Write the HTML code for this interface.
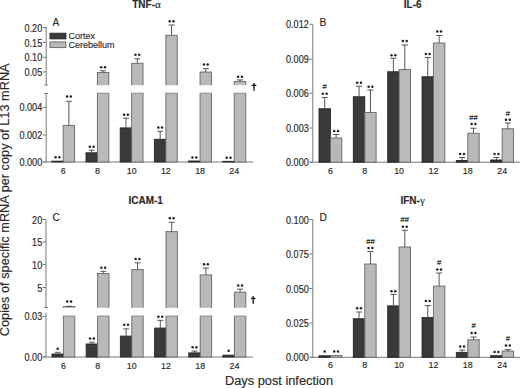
<!DOCTYPE html>
<html><head><meta charset="utf-8"><style>
html,body{margin:0;padding:0;background:#fff;}
body{width:520px;height:388px;overflow:hidden;}
svg{display:block;font-family:"Liberation Sans",sans-serif;}
text{stroke:#2a2a2a;stroke-width:0.15px;}
</style></head><body>
<svg width="520" height="388" viewBox="0 0 520 388">
<rect width="520" height="388" fill="#fff"/>
<line x1="46.2" y1="26.6" x2="46.2" y2="85" stroke="#7a7a7a" stroke-width="1"/>
<line x1="44.2" y1="85" x2="48.2" y2="85" stroke="#7a7a7a" stroke-width="1"/>
<line x1="46.2" y1="93.5" x2="46.2" y2="162" stroke="#7a7a7a" stroke-width="1"/>
<line x1="44.2" y1="93.5" x2="48.2" y2="93.5" stroke="#7a7a7a" stroke-width="1"/>
<line x1="42.7" y1="27.6" x2="46.2" y2="27.6" stroke="#7a7a7a" stroke-width="1"/>
<text transform="translate(42.20,31.60) scale(1,1.15)" font-size="9.1" text-anchor="end" font-weight="normal" fill="#2a2a2a" >0.20</text>
<line x1="42.7" y1="42.5" x2="46.2" y2="42.5" stroke="#7a7a7a" stroke-width="1"/>
<text transform="translate(42.20,46.50) scale(1,1.15)" font-size="9.1" text-anchor="end" font-weight="normal" fill="#2a2a2a" >0.15</text>
<line x1="42.7" y1="57.3" x2="46.2" y2="57.3" stroke="#7a7a7a" stroke-width="1"/>
<text transform="translate(42.20,61.30) scale(1,1.15)" font-size="9.1" text-anchor="end" font-weight="normal" fill="#2a2a2a" >0.10</text>
<line x1="42.7" y1="71.9" x2="46.2" y2="71.9" stroke="#7a7a7a" stroke-width="1"/>
<text transform="translate(42.20,75.90) scale(1,1.15)" font-size="9.1" text-anchor="end" font-weight="normal" fill="#2a2a2a" >0.05</text>
<line x1="42.7" y1="107.3" x2="46.2" y2="107.3" stroke="#7a7a7a" stroke-width="1"/>
<text transform="translate(42.20,111.30) scale(1,1.15)" font-size="9.1" text-anchor="end" font-weight="normal" fill="#2a2a2a" >0.004</text>
<line x1="42.7" y1="135" x2="46.2" y2="135" stroke="#7a7a7a" stroke-width="1"/>
<text transform="translate(42.20,139.00) scale(1,1.15)" font-size="9.1" text-anchor="end" font-weight="normal" fill="#2a2a2a" >0.002</text>
<line x1="42.7" y1="162" x2="46.2" y2="162" stroke="#7a7a7a" stroke-width="1"/>
<text transform="translate(42.20,166.00) scale(1,1.15)" font-size="9.1" text-anchor="end" font-weight="normal" fill="#2a2a2a" >0.000</text>
<line x1="43.3" y1="162" x2="253.2" y2="162" stroke="#7a7a7a" stroke-width="1"/>
<rect x="51.80" y="161.20" width="11.4" height="0.80" fill="#3a3a3a"/>
<path d="M51.80 162.00V161.20M63.20 161.20V162.00" stroke="#222" stroke-width="0.9" fill="none"/>
<path d="M51.35 161.20H63.65" stroke="#222" stroke-width="0.9"/>
<path d="M51.35 162.00H63.65" stroke="#222" stroke-width="0.9"/>
<circle cx="55.60" cy="157.30" r="1.25" fill="#222"/>
<circle cx="59.40" cy="157.30" r="1.25" fill="#222"/>
<rect x="63.20" y="125.40" width="11.4" height="36.60" fill="#b9b9b9"/>
<path d="M63.20 162.00V125.40M74.60 125.40V162.00" stroke="#666" stroke-width="0.9" fill="none"/>
<path d="M62.75 125.40H75.05" stroke="#666" stroke-width="0.9"/>
<path d="M62.75 162.00H75.05" stroke="#666" stroke-width="0.9"/>
<line x1="68.9" y1="125.4" x2="68.9" y2="101.3" stroke="#444" stroke-width="0.9"/>
<line x1="65.9" y1="101.3" x2="71.9" y2="101.3" stroke="#444" stroke-width="0.9"/>
<circle cx="67.00" cy="96.60" r="1.25" fill="#222"/>
<circle cx="70.80" cy="96.60" r="1.25" fill="#222"/>
<rect x="86.02" y="152.80" width="11.4" height="9.20" fill="#3a3a3a"/>
<path d="M86.02 162.00V152.80M97.42 152.80V162.00" stroke="#222" stroke-width="0.9" fill="none"/>
<path d="M85.57 152.80H97.87" stroke="#222" stroke-width="0.9"/>
<path d="M85.57 162.00H97.87" stroke="#222" stroke-width="0.9"/>
<line x1="91.72" y1="152.8" x2="91.72" y2="150.2" stroke="#444" stroke-width="0.9"/>
<line x1="88.72" y1="150.2" x2="94.72" y2="150.2" stroke="#444" stroke-width="0.9"/>
<circle cx="89.82" cy="146.70" r="1.25" fill="#222"/>
<circle cx="93.62" cy="146.70" r="1.25" fill="#222"/>
<rect x="97.42" y="93.20" width="11.4" height="68.80" fill="#b9b9b9"/>
<path d="M97.42 162.00V93.20M108.82 93.20V162.00" stroke="#666" stroke-width="0.9" fill="none"/>
<path d="M96.97 93.20H109.27" stroke="#888" stroke-width="0.9"/>
<path d="M96.97 162.00H109.27" stroke="#666" stroke-width="0.9"/>
<rect x="97.42" y="72.50" width="11.4" height="12.70" fill="#b9b9b9"/>
<path d="M97.42 85.20V72.50M108.82 72.50V85.20" stroke="#666" stroke-width="0.9" fill="none"/>
<path d="M96.97 72.50H109.27" stroke="#666" stroke-width="0.9"/>
<line x1="103.12" y1="72.5" x2="103.12" y2="70.8" stroke="#444" stroke-width="0.9"/>
<line x1="100.12" y1="70.8" x2="106.12" y2="70.8" stroke="#444" stroke-width="0.9"/>
<circle cx="101.22" cy="67.20" r="1.25" fill="#222"/>
<circle cx="105.02" cy="67.20" r="1.25" fill="#222"/>
<rect x="120.24" y="127.90" width="11.4" height="34.10" fill="#3a3a3a"/>
<path d="M120.24 162.00V127.90M131.64 127.90V162.00" stroke="#222" stroke-width="0.9" fill="none"/>
<path d="M119.79 127.90H132.09" stroke="#222" stroke-width="0.9"/>
<path d="M119.79 162.00H132.09" stroke="#222" stroke-width="0.9"/>
<line x1="125.93999999999998" y1="127.9" x2="125.93999999999998" y2="118.1" stroke="#444" stroke-width="0.9"/>
<line x1="122.93999999999998" y1="118.1" x2="128.94" y2="118.1" stroke="#444" stroke-width="0.9"/>
<circle cx="124.04" cy="114.80" r="1.25" fill="#222"/>
<circle cx="127.84" cy="114.80" r="1.25" fill="#222"/>
<rect x="131.64" y="93.20" width="11.4" height="68.80" fill="#b9b9b9"/>
<path d="M131.64 162.00V93.20M143.04 93.20V162.00" stroke="#666" stroke-width="0.9" fill="none"/>
<path d="M131.19 93.20H143.49" stroke="#888" stroke-width="0.9"/>
<path d="M131.19 162.00H143.49" stroke="#666" stroke-width="0.9"/>
<rect x="131.64" y="63.30" width="11.4" height="21.90" fill="#b9b9b9"/>
<path d="M131.64 85.20V63.30M143.04 63.30V85.20" stroke="#666" stroke-width="0.9" fill="none"/>
<path d="M131.19 63.30H143.49" stroke="#666" stroke-width="0.9"/>
<line x1="137.33999999999997" y1="63.3" x2="137.33999999999997" y2="58.8" stroke="#444" stroke-width="0.9"/>
<line x1="134.33999999999997" y1="58.8" x2="140.33999999999997" y2="58.8" stroke="#444" stroke-width="0.9"/>
<circle cx="135.44" cy="54.70" r="1.25" fill="#222"/>
<circle cx="139.24" cy="54.70" r="1.25" fill="#222"/>
<rect x="154.46" y="139.30" width="11.4" height="22.70" fill="#3a3a3a"/>
<path d="M154.46 162.00V139.30M165.86 139.30V162.00" stroke="#222" stroke-width="0.9" fill="none"/>
<path d="M154.01 139.30H166.31" stroke="#222" stroke-width="0.9"/>
<path d="M154.01 162.00H166.31" stroke="#222" stroke-width="0.9"/>
<line x1="160.16000000000003" y1="139.3" x2="160.16000000000003" y2="131.3" stroke="#444" stroke-width="0.9"/>
<line x1="157.16000000000003" y1="131.3" x2="163.16000000000003" y2="131.3" stroke="#444" stroke-width="0.9"/>
<circle cx="158.26" cy="127.50" r="1.25" fill="#222"/>
<circle cx="162.06" cy="127.50" r="1.25" fill="#222"/>
<rect x="165.86" y="93.20" width="11.4" height="68.80" fill="#b9b9b9"/>
<path d="M165.86 162.00V93.20M177.26 93.20V162.00" stroke="#666" stroke-width="0.9" fill="none"/>
<path d="M165.41 93.20H177.71" stroke="#888" stroke-width="0.9"/>
<path d="M165.41 162.00H177.71" stroke="#666" stroke-width="0.9"/>
<rect x="165.86" y="35.30" width="11.4" height="49.90" fill="#b9b9b9"/>
<path d="M165.86 85.20V35.30M177.26 35.30V85.20" stroke="#666" stroke-width="0.9" fill="none"/>
<path d="M165.41 35.30H177.71" stroke="#666" stroke-width="0.9"/>
<line x1="171.56" y1="35.3" x2="171.56" y2="25" stroke="#444" stroke-width="0.9"/>
<line x1="168.56" y1="25" x2="174.56" y2="25" stroke="#444" stroke-width="0.9"/>
<circle cx="169.66" cy="21.20" r="1.25" fill="#222"/>
<circle cx="173.46" cy="21.20" r="1.25" fill="#222"/>
<rect x="188.68" y="161.00" width="11.4" height="1.00" fill="#3a3a3a"/>
<path d="M188.68 162.00V161.00M200.08 161.00V162.00" stroke="#222" stroke-width="0.9" fill="none"/>
<path d="M188.23 161.00H200.53" stroke="#222" stroke-width="0.9"/>
<path d="M188.23 162.00H200.53" stroke="#222" stroke-width="0.9"/>
<circle cx="192.48" cy="157.40" r="1.25" fill="#222"/>
<circle cx="196.28" cy="157.40" r="1.25" fill="#222"/>
<rect x="200.08" y="93.20" width="11.4" height="68.80" fill="#b9b9b9"/>
<path d="M200.08 162.00V93.20M211.48 93.20V162.00" stroke="#666" stroke-width="0.9" fill="none"/>
<path d="M199.63 93.20H211.93" stroke="#888" stroke-width="0.9"/>
<path d="M199.63 162.00H211.93" stroke="#666" stroke-width="0.9"/>
<rect x="200.08" y="72.10" width="11.4" height="13.10" fill="#b9b9b9"/>
<path d="M200.08 85.20V72.10M211.48 72.10V85.20" stroke="#666" stroke-width="0.9" fill="none"/>
<path d="M199.63 72.10H211.93" stroke="#666" stroke-width="0.9"/>
<line x1="205.77999999999997" y1="72.1" x2="205.77999999999997" y2="68.6" stroke="#444" stroke-width="0.9"/>
<line x1="202.77999999999997" y1="68.6" x2="208.77999999999997" y2="68.6" stroke="#444" stroke-width="0.9"/>
<circle cx="203.88" cy="64.60" r="1.25" fill="#222"/>
<circle cx="207.68" cy="64.60" r="1.25" fill="#222"/>
<rect x="222.90" y="161.40" width="11.4" height="0.60" fill="#3a3a3a"/>
<path d="M222.90 162.00V161.40M234.30 161.40V162.00" stroke="#222" stroke-width="0.9" fill="none"/>
<path d="M222.45 161.40H234.75" stroke="#222" stroke-width="0.9"/>
<path d="M222.45 162.00H234.75" stroke="#222" stroke-width="0.9"/>
<circle cx="226.70" cy="157.70" r="1.25" fill="#222"/>
<circle cx="230.50" cy="157.70" r="1.25" fill="#222"/>
<rect x="234.30" y="93.20" width="11.4" height="68.80" fill="#b9b9b9"/>
<path d="M234.30 162.00V93.20M245.70 93.20V162.00" stroke="#666" stroke-width="0.9" fill="none"/>
<path d="M233.85 93.20H246.15" stroke="#888" stroke-width="0.9"/>
<path d="M233.85 162.00H246.15" stroke="#666" stroke-width="0.9"/>
<rect x="234.30" y="81.40" width="11.4" height="3.80" fill="#b9b9b9"/>
<path d="M234.30 85.20V81.40M245.70 81.40V85.20" stroke="#666" stroke-width="0.9" fill="none"/>
<path d="M233.85 81.40H246.15" stroke="#666" stroke-width="0.9"/>
<line x1="240.0" y1="81.4" x2="240.0" y2="79.9" stroke="#444" stroke-width="0.9"/>
<line x1="237.0" y1="79.9" x2="243.0" y2="79.9" stroke="#444" stroke-width="0.9"/>
<circle cx="238.10" cy="76.80" r="1.25" fill="#222"/>
<circle cx="241.90" cy="76.80" r="1.25" fill="#222"/>
<path d="M253.15 83.30H254.85L254.55 91.00H253.45Z" fill="#1a1a1a"/>
<path d="M251.70 85.40H256.30" stroke="#1a1a1a" stroke-width="1.3"/>
<rect x="50" y="33.2" width="15.9" height="5.7" fill="#3a3a3a" stroke="#222" stroke-width="0.9"/>
<rect x="50" y="41.9" width="15.9" height="5.7" fill="#b9b9b9" stroke="#666" stroke-width="0.9"/>
<text transform="translate(68.60,38.90) scale(1,1.0)" font-size="9" text-anchor="start" font-weight="normal" fill="#2a2a2a" >Cortex</text>
<text transform="translate(68.60,47.60) scale(1,1.0)" font-size="9" text-anchor="start" font-weight="normal" fill="#2a2a2a" >Cerebellum</text>
<text transform="translate(52.60,25.50) scale(1,1.0)" font-size="10.2" text-anchor="start" font-weight="normal" fill="#2a2a2a" >A</text>
<text transform="translate(146.50,7.70) scale(1,1.0)" font-size="10" text-anchor="middle" font-weight="bold" fill="#2a2a2a" >TNF-<tspan font-weight="normal" font-family="Liberation Serif" font-size="11">α</tspan></text>
<line x1="312.8" y1="24.25" x2="312.8" y2="162.2" stroke="#7a7a7a" stroke-width="1"/>
<line x1="309.3" y1="24.25" x2="312.8" y2="24.25" stroke="#7a7a7a" stroke-width="1"/>
<text transform="translate(308.80,28.25) scale(1,1.15)" font-size="9.1" text-anchor="end" font-weight="normal" fill="#2a2a2a" >0.012</text>
<line x1="309.3" y1="59.25" x2="312.8" y2="59.25" stroke="#7a7a7a" stroke-width="1"/>
<text transform="translate(308.80,63.25) scale(1,1.15)" font-size="9.1" text-anchor="end" font-weight="normal" fill="#2a2a2a" >0.009</text>
<line x1="309.3" y1="93.25" x2="312.8" y2="93.25" stroke="#7a7a7a" stroke-width="1"/>
<text transform="translate(308.80,97.25) scale(1,1.15)" font-size="9.1" text-anchor="end" font-weight="normal" fill="#2a2a2a" >0.006</text>
<line x1="309.3" y1="128" x2="312.8" y2="128" stroke="#7a7a7a" stroke-width="1"/>
<text transform="translate(308.80,132.00) scale(1,1.15)" font-size="9.1" text-anchor="end" font-weight="normal" fill="#2a2a2a" >0.003</text>
<line x1="309.3" y1="162.2" x2="312.8" y2="162.2" stroke="#7a7a7a" stroke-width="1"/>
<text transform="translate(308.80,166.20) scale(1,1.15)" font-size="9.1" text-anchor="end" font-weight="normal" fill="#2a2a2a" >0.000</text>
<line x1="310.5" y1="162.2" x2="520" y2="162.2" stroke="#7a7a7a" stroke-width="1"/>
<rect x="319.00" y="108.75" width="11.4" height="53.45" fill="#3a3a3a"/>
<path d="M319.00 162.20V108.75M330.40 108.75V162.20" stroke="#222" stroke-width="0.9" fill="none"/>
<path d="M318.55 108.75H330.85" stroke="#222" stroke-width="0.9"/>
<path d="M318.55 162.20H330.85" stroke="#222" stroke-width="0.9"/>
<line x1="324.7" y1="108.75" x2="324.7" y2="97.5" stroke="#444" stroke-width="0.9"/>
<line x1="321.7" y1="97.5" x2="327.7" y2="97.5" stroke="#444" stroke-width="0.9"/>
<circle cx="322.80" cy="93.70" r="1.25" fill="#222"/>
<circle cx="326.60" cy="93.70" r="1.25" fill="#222"/>
<text transform="translate(324.70,88.85) scale(1,1.0)" font-size="7.6" text-anchor="middle" font-weight="normal" fill="#111" stroke="#111" stroke-width="0.25">#</text>
<rect x="330.40" y="138.00" width="11.4" height="24.20" fill="#b9b9b9"/>
<path d="M330.40 162.20V138.00M341.80 138.00V162.20" stroke="#666" stroke-width="0.9" fill="none"/>
<path d="M329.95 138.00H342.25" stroke="#666" stroke-width="0.9"/>
<path d="M329.95 162.20H342.25" stroke="#666" stroke-width="0.9"/>
<line x1="336.09999999999997" y1="138" x2="336.09999999999997" y2="134.5" stroke="#444" stroke-width="0.9"/>
<line x1="333.09999999999997" y1="134.5" x2="339.09999999999997" y2="134.5" stroke="#444" stroke-width="0.9"/>
<circle cx="334.20" cy="130.95" r="1.25" fill="#222"/>
<circle cx="338.00" cy="130.95" r="1.25" fill="#222"/>
<rect x="353.35" y="96.75" width="11.4" height="65.45" fill="#3a3a3a"/>
<path d="M353.35 162.20V96.75M364.75 96.75V162.20" stroke="#222" stroke-width="0.9" fill="none"/>
<path d="M352.90 96.75H365.20" stroke="#222" stroke-width="0.9"/>
<path d="M352.90 162.20H365.20" stroke="#222" stroke-width="0.9"/>
<line x1="359.05" y1="96.75" x2="359.05" y2="86.25" stroke="#444" stroke-width="0.9"/>
<line x1="356.05" y1="86.25" x2="362.05" y2="86.25" stroke="#444" stroke-width="0.9"/>
<circle cx="357.15" cy="82.70" r="1.25" fill="#222"/>
<circle cx="360.95" cy="82.70" r="1.25" fill="#222"/>
<rect x="364.75" y="112.50" width="11.4" height="49.70" fill="#b9b9b9"/>
<path d="M364.75 162.20V112.50M376.15 112.50V162.20" stroke="#666" stroke-width="0.9" fill="none"/>
<path d="M364.30 112.50H376.60" stroke="#666" stroke-width="0.9"/>
<path d="M364.30 162.20H376.60" stroke="#666" stroke-width="0.9"/>
<line x1="370.45" y1="112.5" x2="370.45" y2="90" stroke="#444" stroke-width="0.9"/>
<line x1="367.45" y1="90" x2="373.45" y2="90" stroke="#444" stroke-width="0.9"/>
<circle cx="368.55" cy="86.70" r="1.25" fill="#222"/>
<circle cx="372.35" cy="86.70" r="1.25" fill="#222"/>
<rect x="387.70" y="71.75" width="11.4" height="90.45" fill="#3a3a3a"/>
<path d="M387.70 162.20V71.75M399.10 71.75V162.20" stroke="#222" stroke-width="0.9" fill="none"/>
<path d="M387.25 71.75H399.55" stroke="#222" stroke-width="0.9"/>
<path d="M387.25 162.20H399.55" stroke="#222" stroke-width="0.9"/>
<line x1="393.4" y1="71.75" x2="393.4" y2="58.25" stroke="#444" stroke-width="0.9"/>
<line x1="390.4" y1="58.25" x2="396.4" y2="58.25" stroke="#444" stroke-width="0.9"/>
<circle cx="391.50" cy="55.20" r="1.25" fill="#222"/>
<circle cx="395.30" cy="55.20" r="1.25" fill="#222"/>
<rect x="399.10" y="69.50" width="11.4" height="92.70" fill="#b9b9b9"/>
<path d="M399.10 162.20V69.50M410.50 69.50V162.20" stroke="#666" stroke-width="0.9" fill="none"/>
<path d="M398.65 69.50H410.95" stroke="#666" stroke-width="0.9"/>
<path d="M398.65 162.20H410.95" stroke="#666" stroke-width="0.9"/>
<line x1="404.79999999999995" y1="69.5" x2="404.79999999999995" y2="45" stroke="#444" stroke-width="0.9"/>
<line x1="401.79999999999995" y1="45" x2="407.79999999999995" y2="45" stroke="#444" stroke-width="0.9"/>
<circle cx="402.90" cy="40.95" r="1.25" fill="#222"/>
<circle cx="406.70" cy="40.95" r="1.25" fill="#222"/>
<rect x="422.05" y="76.75" width="11.4" height="85.45" fill="#3a3a3a"/>
<path d="M422.05 162.20V76.75M433.45 76.75V162.20" stroke="#222" stroke-width="0.9" fill="none"/>
<path d="M421.60 76.75H433.90" stroke="#222" stroke-width="0.9"/>
<path d="M421.60 162.20H433.90" stroke="#222" stroke-width="0.9"/>
<line x1="427.75" y1="76.75" x2="427.75" y2="57.5" stroke="#444" stroke-width="0.9"/>
<line x1="424.75" y1="57.5" x2="430.75" y2="57.5" stroke="#444" stroke-width="0.9"/>
<circle cx="425.85" cy="53.95" r="1.25" fill="#222"/>
<circle cx="429.65" cy="53.95" r="1.25" fill="#222"/>
<rect x="433.45" y="43.00" width="11.4" height="119.20" fill="#b9b9b9"/>
<path d="M433.45 162.20V43.00M444.85 43.00V162.20" stroke="#666" stroke-width="0.9" fill="none"/>
<path d="M433.00 43.00H445.30" stroke="#666" stroke-width="0.9"/>
<path d="M433.00 162.20H445.30" stroke="#666" stroke-width="0.9"/>
<line x1="439.15" y1="43" x2="439.15" y2="35.5" stroke="#444" stroke-width="0.9"/>
<line x1="436.15" y1="35.5" x2="442.15" y2="35.5" stroke="#444" stroke-width="0.9"/>
<circle cx="437.25" cy="31.45" r="1.25" fill="#222"/>
<circle cx="441.05" cy="31.45" r="1.25" fill="#222"/>
<rect x="456.40" y="160.50" width="11.4" height="1.70" fill="#3a3a3a"/>
<path d="M456.40 162.20V160.50M467.80 160.50V162.20" stroke="#222" stroke-width="0.9" fill="none"/>
<path d="M455.95 160.50H468.25" stroke="#222" stroke-width="0.9"/>
<path d="M455.95 162.20H468.25" stroke="#222" stroke-width="0.9"/>
<line x1="462.09999999999997" y1="160.5" x2="462.09999999999997" y2="157.5" stroke="#444" stroke-width="0.9"/>
<line x1="459.09999999999997" y1="157.5" x2="465.09999999999997" y2="157.5" stroke="#444" stroke-width="0.9"/>
<circle cx="460.20" cy="153.95" r="1.25" fill="#222"/>
<circle cx="464.00" cy="153.95" r="1.25" fill="#222"/>
<rect x="467.80" y="133.25" width="11.4" height="28.95" fill="#b9b9b9"/>
<path d="M467.80 162.20V133.25M479.20 133.25V162.20" stroke="#666" stroke-width="0.9" fill="none"/>
<path d="M467.35 133.25H479.65" stroke="#666" stroke-width="0.9"/>
<path d="M467.35 162.20H479.65" stroke="#666" stroke-width="0.9"/>
<line x1="473.49999999999994" y1="133.25" x2="473.49999999999994" y2="128.25" stroke="#444" stroke-width="0.9"/>
<line x1="470.49999999999994" y1="128.25" x2="476.49999999999994" y2="128.25" stroke="#444" stroke-width="0.9"/>
<circle cx="471.60" cy="123.95" r="1.25" fill="#222"/>
<circle cx="475.40" cy="123.95" r="1.25" fill="#222"/>
<text transform="translate(473.50,119.60) scale(1,1.0)" font-size="7.6" text-anchor="middle" font-weight="normal" fill="#111" stroke="#111" stroke-width="0.25">##</text>
<rect x="490.75" y="160.00" width="11.4" height="2.20" fill="#3a3a3a"/>
<path d="M490.75 162.20V160.00M502.15 160.00V162.20" stroke="#222" stroke-width="0.9" fill="none"/>
<path d="M490.30 160.00H502.60" stroke="#222" stroke-width="0.9"/>
<path d="M490.30 162.20H502.60" stroke="#222" stroke-width="0.9"/>
<line x1="496.45" y1="160" x2="496.45" y2="157.5" stroke="#444" stroke-width="0.9"/>
<line x1="493.45" y1="157.5" x2="499.45" y2="157.5" stroke="#444" stroke-width="0.9"/>
<circle cx="494.55" cy="153.95" r="1.25" fill="#222"/>
<circle cx="498.35" cy="153.95" r="1.25" fill="#222"/>
<rect x="502.15" y="128.75" width="11.4" height="33.45" fill="#b9b9b9"/>
<path d="M502.15 162.20V128.75M513.55 128.75V162.20" stroke="#666" stroke-width="0.9" fill="none"/>
<path d="M501.70 128.75H514.00" stroke="#666" stroke-width="0.9"/>
<path d="M501.70 162.20H514.00" stroke="#666" stroke-width="0.9"/>
<line x1="507.84999999999997" y1="128.75" x2="507.84999999999997" y2="123" stroke="#444" stroke-width="0.9"/>
<line x1="504.84999999999997" y1="123" x2="510.84999999999997" y2="123" stroke="#444" stroke-width="0.9"/>
<circle cx="505.95" cy="119.70" r="1.25" fill="#222"/>
<circle cx="509.75" cy="119.70" r="1.25" fill="#222"/>
<text transform="translate(507.85,116.35) scale(1,1.0)" font-size="7.6" text-anchor="middle" font-weight="normal" fill="#111" stroke="#111" stroke-width="0.25">#</text>
<text transform="translate(319.60,25.50) scale(1,1.0)" font-size="10.2" text-anchor="start" font-weight="normal" fill="#2a2a2a" >B</text>
<text transform="translate(412.70,8.20) scale(1,1.0)" font-size="10" text-anchor="middle" font-weight="bold" fill="#2a2a2a" >IL-6</text>
<line x1="46.0" y1="219.5" x2="46.0" y2="307.6" stroke="#7a7a7a" stroke-width="1"/>
<line x1="44.0" y1="307.6" x2="48.0" y2="307.6" stroke="#7a7a7a" stroke-width="1"/>
<line x1="46.0" y1="312.5" x2="46.0" y2="357" stroke="#7a7a7a" stroke-width="1"/>
<line x1="42.5" y1="219.5" x2="46.0" y2="219.5" stroke="#7a7a7a" stroke-width="1"/>
<text transform="translate(42.20,223.50) scale(1,1.15)" font-size="9.1" text-anchor="end" font-weight="normal" fill="#2a2a2a" >20</text>
<line x1="42.5" y1="242" x2="46.0" y2="242" stroke="#7a7a7a" stroke-width="1"/>
<text transform="translate(42.20,246.00) scale(1,1.15)" font-size="9.1" text-anchor="end" font-weight="normal" fill="#2a2a2a" >15</text>
<line x1="42.5" y1="264.5" x2="46.0" y2="264.5" stroke="#7a7a7a" stroke-width="1"/>
<text transform="translate(42.20,268.50) scale(1,1.15)" font-size="9.1" text-anchor="end" font-weight="normal" fill="#2a2a2a" >10</text>
<line x1="42.5" y1="287.5" x2="46.0" y2="287.5" stroke="#7a7a7a" stroke-width="1"/>
<text transform="translate(42.20,291.50) scale(1,1.15)" font-size="9.1" text-anchor="end" font-weight="normal" fill="#2a2a2a" >5</text>
<line x1="42.5" y1="316.3" x2="46.0" y2="316.3" stroke="#7a7a7a" stroke-width="1"/>
<text transform="translate(42.20,320.30) scale(1,1.15)" font-size="9.1" text-anchor="end" font-weight="normal" fill="#2a2a2a" >0.03</text>
<line x1="42.5" y1="357" x2="46.0" y2="357" stroke="#7a7a7a" stroke-width="1"/>
<text transform="translate(42.20,361.00) scale(1,1.15)" font-size="9.1" text-anchor="end" font-weight="normal" fill="#2a2a2a" >0.00</text>
<line x1="43" y1="357" x2="253.2" y2="357" stroke="#7a7a7a" stroke-width="1"/>
<rect x="52.00" y="354.00" width="11.4" height="3.00" fill="#3a3a3a"/>
<path d="M52.00 357.00V354.00M63.40 354.00V357.00" stroke="#222" stroke-width="0.9" fill="none"/>
<path d="M51.55 354.00H63.85" stroke="#222" stroke-width="0.9"/>
<path d="M51.55 357.00H63.85" stroke="#222" stroke-width="0.9"/>
<line x1="57.699999999999996" y1="354" x2="57.699999999999996" y2="352.3" stroke="#444" stroke-width="0.9"/>
<line x1="54.699999999999996" y1="352.3" x2="60.699999999999996" y2="352.3" stroke="#444" stroke-width="0.9"/>
<circle cx="57.70" cy="348.70" r="1.25" fill="#222"/>
<rect x="63.40" y="316.00" width="11.4" height="41.00" fill="#b9b9b9"/>
<path d="M63.40 357.00V316.00M74.80 316.00V357.00" stroke="#666" stroke-width="0.9" fill="none"/>
<path d="M62.95 316.00H75.25" stroke="#888" stroke-width="0.9"/>
<path d="M62.95 357.00H75.25" stroke="#666" stroke-width="0.9"/>
<rect x="63.40" y="306.60" width="11.4" height="1.20" fill="#b9b9b9"/>
<path d="M63.40 307.80V306.60M74.80 306.60V307.80" stroke="#666" stroke-width="0.9" fill="none"/>
<path d="M62.95 306.60H75.25" stroke="#666" stroke-width="0.9"/>
<line x1="69.1" y1="306.6" x2="69.1" y2="306.3" stroke="#444" stroke-width="0.9"/>
<line x1="66.1" y1="306.3" x2="72.1" y2="306.3" stroke="#444" stroke-width="0.9"/>
<circle cx="67.20" cy="301.60" r="1.25" fill="#222"/>
<circle cx="71.00" cy="301.60" r="1.25" fill="#222"/>
<rect x="86.20" y="344.00" width="11.4" height="13.00" fill="#3a3a3a"/>
<path d="M86.20 357.00V344.00M97.60 344.00V357.00" stroke="#222" stroke-width="0.9" fill="none"/>
<path d="M85.75 344.00H98.05" stroke="#222" stroke-width="0.9"/>
<path d="M85.75 357.00H98.05" stroke="#222" stroke-width="0.9"/>
<line x1="91.89999999999999" y1="344" x2="91.89999999999999" y2="342.2" stroke="#444" stroke-width="0.9"/>
<line x1="88.89999999999999" y1="342.2" x2="94.89999999999999" y2="342.2" stroke="#444" stroke-width="0.9"/>
<circle cx="90.00" cy="338.40" r="1.25" fill="#222"/>
<circle cx="93.80" cy="338.40" r="1.25" fill="#222"/>
<rect x="97.60" y="316.00" width="11.4" height="41.00" fill="#b9b9b9"/>
<path d="M97.60 357.00V316.00M109.00 316.00V357.00" stroke="#666" stroke-width="0.9" fill="none"/>
<path d="M97.15 316.00H109.45" stroke="#888" stroke-width="0.9"/>
<path d="M97.15 357.00H109.45" stroke="#666" stroke-width="0.9"/>
<rect x="97.60" y="273.50" width="11.4" height="34.30" fill="#b9b9b9"/>
<path d="M97.60 307.80V273.50M109.00 273.50V307.80" stroke="#666" stroke-width="0.9" fill="none"/>
<path d="M97.15 273.50H109.45" stroke="#666" stroke-width="0.9"/>
<line x1="103.3" y1="273.5" x2="103.3" y2="271.3" stroke="#444" stroke-width="0.9"/>
<line x1="100.3" y1="271.3" x2="106.3" y2="271.3" stroke="#444" stroke-width="0.9"/>
<circle cx="101.40" cy="267.70" r="1.25" fill="#222"/>
<circle cx="105.20" cy="267.70" r="1.25" fill="#222"/>
<rect x="120.40" y="336.10" width="11.4" height="20.90" fill="#3a3a3a"/>
<path d="M120.40 357.00V336.10M131.80 336.10V357.00" stroke="#222" stroke-width="0.9" fill="none"/>
<path d="M119.95 336.10H132.25" stroke="#222" stroke-width="0.9"/>
<path d="M119.95 357.00H132.25" stroke="#222" stroke-width="0.9"/>
<line x1="126.10000000000001" y1="336.1" x2="126.10000000000001" y2="328.9" stroke="#444" stroke-width="0.9"/>
<line x1="123.10000000000001" y1="328.9" x2="129.10000000000002" y2="328.9" stroke="#444" stroke-width="0.9"/>
<circle cx="124.20" cy="324.80" r="1.25" fill="#222"/>
<circle cx="128.00" cy="324.80" r="1.25" fill="#222"/>
<rect x="131.80" y="316.00" width="11.4" height="41.00" fill="#b9b9b9"/>
<path d="M131.80 357.00V316.00M143.20 316.00V357.00" stroke="#666" stroke-width="0.9" fill="none"/>
<path d="M131.35 316.00H143.65" stroke="#888" stroke-width="0.9"/>
<path d="M131.35 357.00H143.65" stroke="#666" stroke-width="0.9"/>
<rect x="131.80" y="269.60" width="11.4" height="38.20" fill="#b9b9b9"/>
<path d="M131.80 307.80V269.60M143.20 269.60V307.80" stroke="#666" stroke-width="0.9" fill="none"/>
<path d="M131.35 269.60H143.65" stroke="#666" stroke-width="0.9"/>
<line x1="137.5" y1="269.6" x2="137.5" y2="262.8" stroke="#444" stroke-width="0.9"/>
<line x1="134.5" y1="262.8" x2="140.5" y2="262.8" stroke="#444" stroke-width="0.9"/>
<circle cx="135.60" cy="259.00" r="1.25" fill="#222"/>
<circle cx="139.40" cy="259.00" r="1.25" fill="#222"/>
<rect x="154.60" y="328.10" width="11.4" height="28.90" fill="#3a3a3a"/>
<path d="M154.60 357.00V328.10M166.00 328.10V357.00" stroke="#222" stroke-width="0.9" fill="none"/>
<path d="M154.15 328.10H166.45" stroke="#222" stroke-width="0.9"/>
<path d="M154.15 357.00H166.45" stroke="#222" stroke-width="0.9"/>
<line x1="160.3" y1="328.1" x2="160.3" y2="320.3" stroke="#444" stroke-width="0.9"/>
<line x1="157.3" y1="320.3" x2="163.3" y2="320.3" stroke="#444" stroke-width="0.9"/>
<circle cx="158.40" cy="316.70" r="1.25" fill="#222"/>
<circle cx="162.20" cy="316.70" r="1.25" fill="#222"/>
<rect x="166.00" y="316.00" width="11.4" height="41.00" fill="#b9b9b9"/>
<path d="M166.00 357.00V316.00M177.40 316.00V357.00" stroke="#666" stroke-width="0.9" fill="none"/>
<path d="M165.55 316.00H177.85" stroke="#888" stroke-width="0.9"/>
<path d="M165.55 357.00H177.85" stroke="#666" stroke-width="0.9"/>
<rect x="166.00" y="231.60" width="11.4" height="76.20" fill="#b9b9b9"/>
<path d="M166.00 307.80V231.60M177.40 231.60V307.80" stroke="#666" stroke-width="0.9" fill="none"/>
<path d="M165.55 231.60H177.85" stroke="#666" stroke-width="0.9"/>
<line x1="171.7" y1="231.6" x2="171.7" y2="222.3" stroke="#444" stroke-width="0.9"/>
<line x1="168.7" y1="222.3" x2="174.7" y2="222.3" stroke="#444" stroke-width="0.9"/>
<circle cx="169.80" cy="218.20" r="1.25" fill="#222"/>
<circle cx="173.60" cy="218.20" r="1.25" fill="#222"/>
<rect x="188.80" y="352.90" width="11.4" height="4.10" fill="#3a3a3a"/>
<path d="M188.80 357.00V352.90M200.20 352.90V357.00" stroke="#222" stroke-width="0.9" fill="none"/>
<path d="M188.35 352.90H200.65" stroke="#222" stroke-width="0.9"/>
<path d="M188.35 357.00H200.65" stroke="#222" stroke-width="0.9"/>
<line x1="194.50000000000003" y1="352.9" x2="194.50000000000003" y2="351.1" stroke="#444" stroke-width="0.9"/>
<line x1="191.50000000000003" y1="351.1" x2="197.50000000000003" y2="351.1" stroke="#444" stroke-width="0.9"/>
<circle cx="192.60" cy="347.30" r="1.25" fill="#222"/>
<circle cx="196.40" cy="347.30" r="1.25" fill="#222"/>
<rect x="200.20" y="316.00" width="11.4" height="41.00" fill="#b9b9b9"/>
<path d="M200.20 357.00V316.00M211.60 316.00V357.00" stroke="#666" stroke-width="0.9" fill="none"/>
<path d="M199.75 316.00H212.05" stroke="#888" stroke-width="0.9"/>
<path d="M199.75 357.00H212.05" stroke="#666" stroke-width="0.9"/>
<rect x="200.20" y="274.90" width="11.4" height="32.90" fill="#b9b9b9"/>
<path d="M200.20 307.80V274.90M211.60 274.90V307.80" stroke="#666" stroke-width="0.9" fill="none"/>
<path d="M199.75 274.90H212.05" stroke="#666" stroke-width="0.9"/>
<line x1="205.9" y1="274.9" x2="205.9" y2="268.1" stroke="#444" stroke-width="0.9"/>
<line x1="202.9" y1="268.1" x2="208.9" y2="268.1" stroke="#444" stroke-width="0.9"/>
<circle cx="204.00" cy="264.20" r="1.25" fill="#222"/>
<circle cx="207.80" cy="264.20" r="1.25" fill="#222"/>
<rect x="223.00" y="355.20" width="11.4" height="1.80" fill="#3a3a3a"/>
<path d="M223.00 357.00V355.20M234.40 355.20V357.00" stroke="#222" stroke-width="0.9" fill="none"/>
<path d="M222.55 355.20H234.85" stroke="#222" stroke-width="0.9"/>
<path d="M222.55 357.00H234.85" stroke="#222" stroke-width="0.9"/>
<circle cx="228.70" cy="350.80" r="1.25" fill="#222"/>
<rect x="234.40" y="316.00" width="11.4" height="41.00" fill="#b9b9b9"/>
<path d="M234.40 357.00V316.00M245.80 316.00V357.00" stroke="#666" stroke-width="0.9" fill="none"/>
<path d="M233.95 316.00H246.25" stroke="#888" stroke-width="0.9"/>
<path d="M233.95 357.00H246.25" stroke="#666" stroke-width="0.9"/>
<rect x="234.40" y="292.20" width="11.4" height="15.60" fill="#b9b9b9"/>
<path d="M234.40 307.80V292.20M245.80 292.20V307.80" stroke="#666" stroke-width="0.9" fill="none"/>
<path d="M233.95 292.20H246.25" stroke="#666" stroke-width="0.9"/>
<line x1="240.1" y1="292.2" x2="240.1" y2="289.1" stroke="#444" stroke-width="0.9"/>
<line x1="237.1" y1="289.1" x2="243.1" y2="289.1" stroke="#444" stroke-width="0.9"/>
<circle cx="238.20" cy="285.60" r="1.25" fill="#222"/>
<circle cx="242.00" cy="285.60" r="1.25" fill="#222"/>
<path d="M252.35 296.30H254.05L253.75 304.00H252.65Z" fill="#1a1a1a"/>
<path d="M250.90 298.40H255.50" stroke="#1a1a1a" stroke-width="1.3"/>
<text transform="translate(52.60,220.50) scale(1,1.0)" font-size="10.2" text-anchor="start" font-weight="normal" fill="#2a2a2a" >C</text>
<text transform="translate(145.70,203.60) scale(1,1.0)" font-size="10" text-anchor="middle" font-weight="bold" fill="#2a2a2a" >ICAM-1</text>
<line x1="312.8" y1="219.5" x2="312.8" y2="357.3" stroke="#7a7a7a" stroke-width="1"/>
<line x1="309.3" y1="219.5" x2="312.8" y2="219.5" stroke="#7a7a7a" stroke-width="1"/>
<text transform="translate(308.80,223.50) scale(1,1.15)" font-size="9.1" text-anchor="end" font-weight="normal" fill="#2a2a2a" >0.100</text>
<line x1="309.3" y1="254" x2="312.8" y2="254" stroke="#7a7a7a" stroke-width="1"/>
<text transform="translate(308.80,258.00) scale(1,1.15)" font-size="9.1" text-anchor="end" font-weight="normal" fill="#2a2a2a" >0.075</text>
<line x1="309.3" y1="288.5" x2="312.8" y2="288.5" stroke="#7a7a7a" stroke-width="1"/>
<text transform="translate(308.80,292.50) scale(1,1.15)" font-size="9.1" text-anchor="end" font-weight="normal" fill="#2a2a2a" >0.050</text>
<line x1="309.3" y1="323" x2="312.8" y2="323" stroke="#7a7a7a" stroke-width="1"/>
<text transform="translate(308.80,327.00) scale(1,1.15)" font-size="9.1" text-anchor="end" font-weight="normal" fill="#2a2a2a" >0.025</text>
<line x1="309.3" y1="357.3" x2="312.8" y2="357.3" stroke="#7a7a7a" stroke-width="1"/>
<text transform="translate(308.80,361.30) scale(1,1.15)" font-size="9.1" text-anchor="end" font-weight="normal" fill="#2a2a2a" >0.000</text>
<line x1="310.5" y1="357.3" x2="520" y2="357.3" stroke="#7a7a7a" stroke-width="1"/>
<rect x="319.00" y="355.80" width="11.4" height="1.50" fill="#3a3a3a"/>
<path d="M319.00 357.30V355.80M330.40 355.80V357.30" stroke="#222" stroke-width="0.9" fill="none"/>
<path d="M318.55 355.80H330.85" stroke="#222" stroke-width="0.9"/>
<path d="M318.55 357.30H330.85" stroke="#222" stroke-width="0.9"/>
<circle cx="324.70" cy="351.50" r="1.25" fill="#222"/>
<rect x="330.40" y="355.50" width="11.4" height="1.80" fill="#b9b9b9"/>
<path d="M330.40 357.30V355.50M341.80 355.50V357.30" stroke="#666" stroke-width="0.9" fill="none"/>
<path d="M329.95 355.50H342.25" stroke="#666" stroke-width="0.9"/>
<path d="M329.95 357.30H342.25" stroke="#666" stroke-width="0.9"/>
<circle cx="334.20" cy="351.50" r="1.25" fill="#222"/>
<circle cx="338.00" cy="351.50" r="1.25" fill="#222"/>
<rect x="353.35" y="318.75" width="11.4" height="38.55" fill="#3a3a3a"/>
<path d="M353.35 357.30V318.75M364.75 318.75V357.30" stroke="#222" stroke-width="0.9" fill="none"/>
<path d="M352.90 318.75H365.20" stroke="#222" stroke-width="0.9"/>
<path d="M352.90 357.30H365.20" stroke="#222" stroke-width="0.9"/>
<line x1="359.05" y1="318.75" x2="359.05" y2="312" stroke="#444" stroke-width="0.9"/>
<line x1="356.05" y1="312" x2="362.05" y2="312" stroke="#444" stroke-width="0.9"/>
<circle cx="357.15" cy="308.20" r="1.25" fill="#222"/>
<circle cx="360.95" cy="308.20" r="1.25" fill="#222"/>
<rect x="364.75" y="264.00" width="11.4" height="93.30" fill="#b9b9b9"/>
<path d="M364.75 357.30V264.00M376.15 264.00V357.30" stroke="#666" stroke-width="0.9" fill="none"/>
<path d="M364.30 264.00H376.60" stroke="#666" stroke-width="0.9"/>
<path d="M364.30 357.30H376.60" stroke="#666" stroke-width="0.9"/>
<line x1="370.45" y1="264" x2="370.45" y2="251.5" stroke="#444" stroke-width="0.9"/>
<line x1="367.45" y1="251.5" x2="373.45" y2="251.5" stroke="#444" stroke-width="0.9"/>
<circle cx="368.55" cy="247.95" r="1.25" fill="#222"/>
<circle cx="372.35" cy="247.95" r="1.25" fill="#222"/>
<text transform="translate(370.45,244.10) scale(1,1.0)" font-size="7.6" text-anchor="middle" font-weight="normal" fill="#111" stroke="#111" stroke-width="0.25">##</text>
<rect x="387.70" y="305.90" width="11.4" height="51.40" fill="#3a3a3a"/>
<path d="M387.70 357.30V305.90M399.10 305.90V357.30" stroke="#222" stroke-width="0.9" fill="none"/>
<path d="M387.25 305.90H399.55" stroke="#222" stroke-width="0.9"/>
<path d="M387.25 357.30H399.55" stroke="#222" stroke-width="0.9"/>
<line x1="393.4" y1="305.9" x2="393.4" y2="294.5" stroke="#444" stroke-width="0.9"/>
<line x1="390.4" y1="294.5" x2="396.4" y2="294.5" stroke="#444" stroke-width="0.9"/>
<circle cx="391.50" cy="291.30" r="1.25" fill="#222"/>
<circle cx="395.30" cy="291.30" r="1.25" fill="#222"/>
<rect x="399.10" y="247.00" width="11.4" height="110.30" fill="#b9b9b9"/>
<path d="M399.10 357.30V247.00M410.50 247.00V357.30" stroke="#666" stroke-width="0.9" fill="none"/>
<path d="M398.65 247.00H410.95" stroke="#666" stroke-width="0.9"/>
<path d="M398.65 357.30H410.95" stroke="#666" stroke-width="0.9"/>
<line x1="404.79999999999995" y1="247" x2="404.79999999999995" y2="230.3" stroke="#444" stroke-width="0.9"/>
<line x1="401.79999999999995" y1="230.3" x2="407.79999999999995" y2="230.3" stroke="#444" stroke-width="0.9"/>
<circle cx="402.90" cy="226.80" r="1.25" fill="#222"/>
<circle cx="406.70" cy="226.80" r="1.25" fill="#222"/>
<text transform="translate(404.80,222.20) scale(1,1.0)" font-size="7.6" text-anchor="middle" font-weight="normal" fill="#111" stroke="#111" stroke-width="0.25">##</text>
<rect x="422.05" y="317.60" width="11.4" height="39.70" fill="#3a3a3a"/>
<path d="M422.05 357.30V317.60M433.45 317.60V357.30" stroke="#222" stroke-width="0.9" fill="none"/>
<path d="M421.60 317.60H433.90" stroke="#222" stroke-width="0.9"/>
<path d="M421.60 357.30H433.90" stroke="#222" stroke-width="0.9"/>
<line x1="427.75" y1="317.6" x2="427.75" y2="305.6" stroke="#444" stroke-width="0.9"/>
<line x1="424.75" y1="305.6" x2="430.75" y2="305.6" stroke="#444" stroke-width="0.9"/>
<circle cx="425.85" cy="301.10" r="1.25" fill="#222"/>
<circle cx="429.65" cy="301.10" r="1.25" fill="#222"/>
<rect x="433.45" y="286.10" width="11.4" height="71.20" fill="#b9b9b9"/>
<path d="M433.45 357.30V286.10M444.85 286.10V357.30" stroke="#666" stroke-width="0.9" fill="none"/>
<path d="M433.00 286.10H445.30" stroke="#666" stroke-width="0.9"/>
<path d="M433.00 357.30H445.30" stroke="#666" stroke-width="0.9"/>
<line x1="439.15" y1="286.1" x2="439.15" y2="273" stroke="#444" stroke-width="0.9"/>
<line x1="436.15" y1="273" x2="442.15" y2="273" stroke="#444" stroke-width="0.9"/>
<circle cx="437.25" cy="269.40" r="1.25" fill="#222"/>
<circle cx="441.05" cy="269.40" r="1.25" fill="#222"/>
<text transform="translate(439.15,264.60) scale(1,1.0)" font-size="7.6" text-anchor="middle" font-weight="normal" fill="#111" stroke="#111" stroke-width="0.25">#</text>
<rect x="456.40" y="352.40" width="11.4" height="4.90" fill="#3a3a3a"/>
<path d="M456.40 357.30V352.40M467.80 352.40V357.30" stroke="#222" stroke-width="0.9" fill="none"/>
<path d="M455.95 352.40H468.25" stroke="#222" stroke-width="0.9"/>
<path d="M455.95 357.30H468.25" stroke="#222" stroke-width="0.9"/>
<line x1="462.09999999999997" y1="352.4" x2="462.09999999999997" y2="350.1" stroke="#444" stroke-width="0.9"/>
<line x1="459.09999999999997" y1="350.1" x2="465.09999999999997" y2="350.1" stroke="#444" stroke-width="0.9"/>
<circle cx="460.20" cy="346.40" r="1.25" fill="#222"/>
<circle cx="464.00" cy="346.40" r="1.25" fill="#222"/>
<rect x="467.80" y="339.80" width="11.4" height="17.50" fill="#b9b9b9"/>
<path d="M467.80 357.30V339.80M479.20 339.80V357.30" stroke="#666" stroke-width="0.9" fill="none"/>
<path d="M467.35 339.80H479.65" stroke="#666" stroke-width="0.9"/>
<path d="M467.35 357.30H479.65" stroke="#666" stroke-width="0.9"/>
<line x1="473.49999999999994" y1="339.8" x2="473.49999999999994" y2="337" stroke="#444" stroke-width="0.9"/>
<line x1="470.49999999999994" y1="337" x2="476.49999999999994" y2="337" stroke="#444" stroke-width="0.9"/>
<circle cx="471.60" cy="333.10" r="1.25" fill="#222"/>
<circle cx="475.40" cy="333.10" r="1.25" fill="#222"/>
<text transform="translate(473.50,328.00) scale(1,1.0)" font-size="7.6" text-anchor="middle" font-weight="normal" fill="#111" stroke="#111" stroke-width="0.25">#</text>
<rect x="490.75" y="355.70" width="11.4" height="1.60" fill="#3a3a3a"/>
<path d="M490.75 357.30V355.70M502.15 355.70V357.30" stroke="#222" stroke-width="0.9" fill="none"/>
<path d="M490.30 355.70H502.60" stroke="#222" stroke-width="0.9"/>
<path d="M490.30 357.30H502.60" stroke="#222" stroke-width="0.9"/>
<circle cx="494.55" cy="352.00" r="1.25" fill="#222"/>
<circle cx="498.35" cy="352.00" r="1.25" fill="#222"/>
<rect x="502.15" y="351.00" width="11.4" height="6.30" fill="#b9b9b9"/>
<path d="M502.15 357.30V351.00M513.55 351.00V357.30" stroke="#666" stroke-width="0.9" fill="none"/>
<path d="M501.70 351.00H514.00" stroke="#666" stroke-width="0.9"/>
<path d="M501.70 357.30H514.00" stroke="#666" stroke-width="0.9"/>
<line x1="507.84999999999997" y1="351" x2="507.84999999999997" y2="349.6" stroke="#444" stroke-width="0.9"/>
<line x1="504.84999999999997" y1="349.6" x2="510.84999999999997" y2="349.6" stroke="#444" stroke-width="0.9"/>
<circle cx="505.95" cy="345.60" r="1.25" fill="#222"/>
<circle cx="509.75" cy="345.60" r="1.25" fill="#222"/>
<text transform="translate(507.85,341.00) scale(1,1.0)" font-size="7.6" text-anchor="middle" font-weight="normal" fill="#111" stroke="#111" stroke-width="0.25">#</text>
<text transform="translate(319.60,220.50) scale(1,1.0)" font-size="10.2" text-anchor="start" font-weight="normal" fill="#2a2a2a" >D</text>
<text transform="translate(412.60,203.60) scale(1,1.0)" font-size="10" text-anchor="middle" font-weight="bold" fill="#2a2a2a" >IFN-<tspan font-weight="normal" font-family="Liberation Serif" font-size="11">γ</tspan></text>
<text transform="translate(63.20,173.60) scale(1,1.12)" font-size="8.9" text-anchor="middle" font-weight="normal" fill="#2a2a2a" >6</text>
<text transform="translate(97.42,173.60) scale(1,1.12)" font-size="8.9" text-anchor="middle" font-weight="normal" fill="#2a2a2a" >8</text>
<text transform="translate(131.64,173.60) scale(1,1.12)" font-size="8.9" text-anchor="middle" font-weight="normal" fill="#2a2a2a" >10</text>
<text transform="translate(165.86,173.60) scale(1,1.12)" font-size="8.9" text-anchor="middle" font-weight="normal" fill="#2a2a2a" >12</text>
<text transform="translate(200.08,173.60) scale(1,1.12)" font-size="8.9" text-anchor="middle" font-weight="normal" fill="#2a2a2a" >18</text>
<text transform="translate(234.30,173.60) scale(1,1.12)" font-size="8.9" text-anchor="middle" font-weight="normal" fill="#2a2a2a" >24</text>
<text transform="translate(330.40,174.00) scale(1,1.12)" font-size="8.9" text-anchor="middle" font-weight="normal" fill="#2a2a2a" >6</text>
<text transform="translate(364.75,174.00) scale(1,1.12)" font-size="8.9" text-anchor="middle" font-weight="normal" fill="#2a2a2a" >8</text>
<text transform="translate(399.10,174.00) scale(1,1.12)" font-size="8.9" text-anchor="middle" font-weight="normal" fill="#2a2a2a" >10</text>
<text transform="translate(433.45,174.00) scale(1,1.12)" font-size="8.9" text-anchor="middle" font-weight="normal" fill="#2a2a2a" >12</text>
<text transform="translate(467.80,174.00) scale(1,1.12)" font-size="8.9" text-anchor="middle" font-weight="normal" fill="#2a2a2a" >18</text>
<text transform="translate(502.15,174.00) scale(1,1.12)" font-size="8.9" text-anchor="middle" font-weight="normal" fill="#2a2a2a" >24</text>
<text transform="translate(63.40,368.70) scale(1,1.12)" font-size="8.9" text-anchor="middle" font-weight="normal" fill="#2a2a2a" >6</text>
<text transform="translate(97.60,368.70) scale(1,1.12)" font-size="8.9" text-anchor="middle" font-weight="normal" fill="#2a2a2a" >8</text>
<text transform="translate(131.80,368.70) scale(1,1.12)" font-size="8.9" text-anchor="middle" font-weight="normal" fill="#2a2a2a" >10</text>
<text transform="translate(166.00,368.70) scale(1,1.12)" font-size="8.9" text-anchor="middle" font-weight="normal" fill="#2a2a2a" >12</text>
<text transform="translate(200.20,368.70) scale(1,1.12)" font-size="8.9" text-anchor="middle" font-weight="normal" fill="#2a2a2a" >18</text>
<text transform="translate(234.40,368.70) scale(1,1.12)" font-size="8.9" text-anchor="middle" font-weight="normal" fill="#2a2a2a" >24</text>
<text transform="translate(330.40,368.40) scale(1,1.12)" font-size="8.9" text-anchor="middle" font-weight="normal" fill="#2a2a2a" >6</text>
<text transform="translate(364.75,368.40) scale(1,1.12)" font-size="8.9" text-anchor="middle" font-weight="normal" fill="#2a2a2a" >8</text>
<text transform="translate(399.10,368.40) scale(1,1.12)" font-size="8.9" text-anchor="middle" font-weight="normal" fill="#2a2a2a" >10</text>
<text transform="translate(433.45,368.40) scale(1,1.12)" font-size="8.9" text-anchor="middle" font-weight="normal" fill="#2a2a2a" >12</text>
<text transform="translate(467.80,368.40) scale(1,1.12)" font-size="8.9" text-anchor="middle" font-weight="normal" fill="#2a2a2a" >18</text>
<text transform="translate(502.15,368.40) scale(1,1.12)" font-size="8.9" text-anchor="middle" font-weight="normal" fill="#2a2a2a" >24</text>
<text transform="translate(279.00,385.00) scale(1,1.0)" font-size="12.8" text-anchor="middle" font-weight="normal" fill="#2a2a2a" >Days post infection</text>
<text x="0" y="0" font-size="12.76" text-anchor="middle" fill="#2a2a2a" transform="translate(9.2,199.8) rotate(-90)">Copies of specific mRNA per copy of L13 mRNA</text>
</svg>
</body></html>
